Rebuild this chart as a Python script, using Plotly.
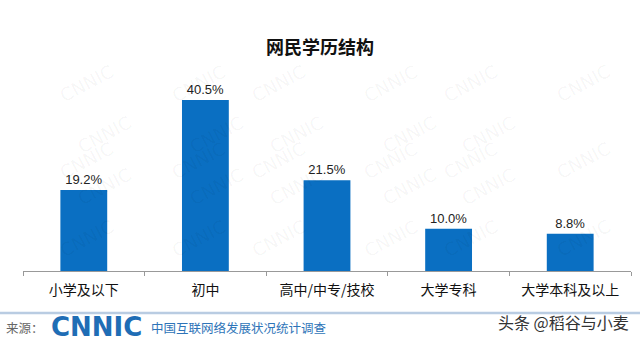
import plotly.graph_objects as go

categories = ["小学及以下", "初中", "高中/中专/技校", "大学专科", "大学本科及以上"]
values = [19.2, 40.5, 21.5, 10.0, 8.8]
labels = ["19.2%", "40.5%", "21.5%", "10.0%", "8.8%"]
title_text = "网民学历结构"

W, H = 640, 341
fig = go.Figure()
fig.add_trace(go.Bar(
    x=categories, y=values, text=labels, textposition="outside",
    textfont=dict(family="Liberation Sans, Arial", size=13, color="#222222"),
    marker=dict(color="#0A6FC2", line=dict(width=0)),
    width=0.385, cliponaxis=False,
))

annotations = []
# faint watermark tiling (kept inside the page)
for row in range(5):
    for col in range(6):
        x = 0.05 + col * 0.185 + (row % 2) * 0.03
        y = 1.12 - row * 0.27
        if x > 0.98:
            continue
        annotations.append(dict(
            xref="paper", yref="paper", x=x, y=y, text="CNNIC", showarrow=False,
            textangle=-28, font=dict(family="DejaVu Sans", size=18, color="rgba(0,0,0,0.045)"),
        ))

annotations += [
    dict(xref="paper", yref="paper", x=-0.032, y=-0.295, xanchor="left", yanchor="middle",
         text="来源：", showarrow=False,
         font=dict(family="Noto Sans CJK SC", size=12.5, color="#666666")),
    dict(xref="paper", yref="paper", x=0.042, y=-0.295, xanchor="left", yanchor="middle",
         text="<b>CNNIC</b>", showarrow=False,
         font=dict(family="DejaVu Sans", size=26, color="#1F6DB5")),
    dict(xref="paper", yref="paper", x=0.207, y=-0.295, xanchor="left", yanchor="middle",
         text="中国互联网络发展状况统计调查", showarrow=False,
         font=dict(family="Noto Sans CJK SC", size=12.5, color="#2E74B8")),
    dict(xref="paper", yref="paper", x=1.0, y=-0.27, xanchor="right", yanchor="middle",
         text="头条 @稻谷与小麦", showarrow=False,
         font=dict(family="Noto Sans CJK SC", size=16, color="#333333")),
]

fig.update_layout(
    width=W, height=H,
    margin=dict(l=23, r=9, t=81, b=70),
    paper_bgcolor="white", plot_bgcolor="rgba(0,0,0,0)",
    showlegend=False,
    title=dict(text="<b>" + title_text + "</b>", x=0.5, xanchor="center", y=0.86, yanchor="middle",
               font=dict(family="Noto Sans CJK SC", size=18, color="#111111")),
    annotations=annotations,
    shapes=[dict(type="line", xref="paper", yref="paper", x0=-0.05, x1=1.05, y0=-0.221, y1=-0.221,
                 line=dict(color="#B9CCE2", width=2.5))],
    bargap=0.6,
)
fig.update_xaxes(
    showline=True, linecolor="#999999", linewidth=1,
    ticks="outside", tickson="boundaries", ticklen=4, tickcolor="#999999",
    tickfont=dict(family="Noto Sans CJK SC", size=14, color="#111111"),
    ticklabelstandoff=6,
    showgrid=False,
)
fig.update_yaxes(visible=False, range=[0, 45])

fig.write_html("out.html")
